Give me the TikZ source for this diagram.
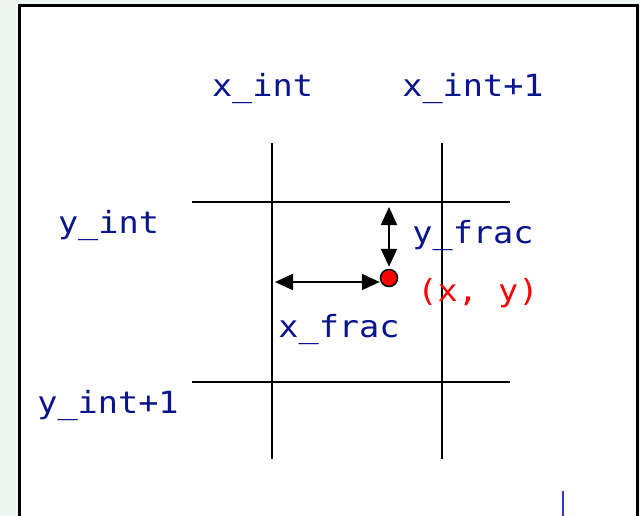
\documentclass[tikz,border=0pt]{standalone}
\usepackage{fontspec}
\newfontfamily\codefont[FakeStretch=1.1]{DejaVu Sans Mono}
\usepackage{tikz}
\usetikzlibrary{
	arrows.meta,
	positioning
}
\definecolor{PageGreen}{RGB}{239,247,243}
\definecolor{CodeBlue}{RGB}{10,20,140}
\definecolor{MarkBlue}{RGB}{51,51,204}

\begin{document}
\begin{tikzpicture}[x=1pt, y=-1pt,
		gridline/.style={line width=2pt},
		codetext/.style={font=\codefont\fontsize{30.5}{31}\selectfont, text=CodeBlue, inner sep=0pt, anchor=base},
		twoway/.style={line width=2pt, {Triangle[length=18pt,width=16pt]}-{Triangle[length=18pt,width=16pt]}}]
		\useasboundingbox (0,0) rectangle (640,516);
		\clip (0,0) rectangle (640,516);
		% 背景与边框
		\fill[PageGreen] (0,0) rectangle (640,516);
		\draw[fill=white, line width=3pt] (19.5,5.5) rectangle (637.5,540);
		% 网格
		\draw[gridline] (272,143) -- (272,459);
		\draw[gridline] (442,143) -- (442,459);
		\draw[gridline] (192,202) -- (510,202);
		\draw[gridline] (192,382) -- (510,382);
		% 坐标文字
		\node[codetext] (xint) at (262.5,97) {x\_int};
		\node[codetext] (xintnext) at (473,97) {x\_int+1};
		\node[codetext] (yint) at (108.5,233) {y\_int};
		\node[codetext] (yintnext) at (108,413) {y\_int+1};
		% 采样点
		\node[circle, fill=red, draw, line width=1.5pt, minimum size=17pt, inner sep=0pt] (pt) at (389,278) {};
		\coordinate (xstart) at (275,282);
		\coordinate (ystart) at (389,207);
		\draw[twoway] (xstart) -- (pt.west |- xstart);
		\draw[twoway] (ystart) -- ([yshift=2pt]pt.north);
		\node[codetext] (yfrac) at (473,243) {y\_frac};
		\node[codetext] (xfrac) at (339,337) {x\_frac};
		\node[codetext, text=red] (ptlabel) at (478,301) {(x, y)};
		% 右下角竖线
		\draw[MarkBlue, line width=2.5pt] (563,491) -- (563,520);
	\end{tikzpicture}
\end{document}
